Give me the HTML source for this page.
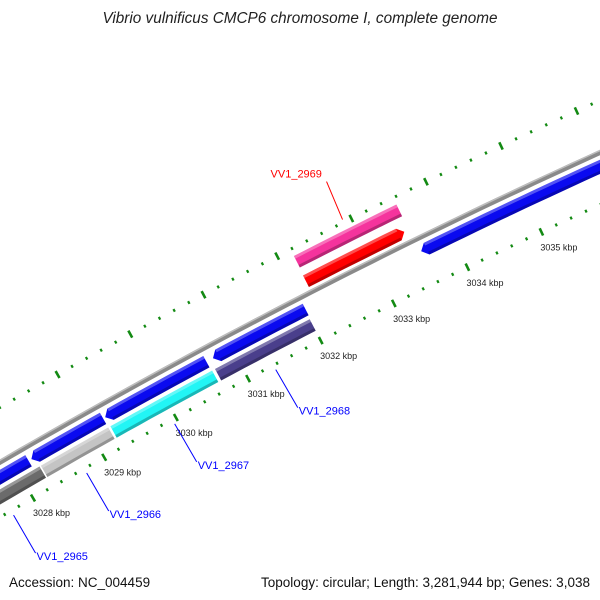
<!DOCTYPE html>
<html><head><meta charset="utf-8"><style>
html,body{margin:0;padding:0;background:#fff;width:600px;height:600px;overflow:hidden}
svg{display:block;font-family:"Liberation Sans",sans-serif}
</style></head><body>
<svg id="map" width="600" height="600" viewBox="0 0 600 600">
<text x="300" y="23" text-anchor="middle" font-size="15.3" font-style="italic" fill="#222">Vibrio vulnificus CMCP6 chromosome I, complete genome</text>
<g id="rot"></g>
<g id="labels"></g>
<text x="9" y="587" font-size="13.5" fill="#111">Accession: NC_004459</text>
<text x="590" y="587" text-anchor="end" font-size="13.5" fill="#111" textLength="329" lengthAdjust="spacingAndGlyphs">Topology: circular; Length: 3,281,944 bp; Genes: 3,038</text>
</svg>
<script>
const tickKbp = [3023,3024,3025,3026,3027,3028,3029,3030,3031,3032,3033,3034,3035,3036,3037,3038,3039];
const tickLabels = ["3028 kbp","3029 kbp","3030 kbp","3031 kbp","3032 kbp","3033 kbp","3034 kbp","3035 kbp"];
const tickLabelKbp = [3028,3029,3030,3031,3032,3033,3034,3035];
const featStart = [3032.18,3032.17,3026.5,3028.22,3029.25,3030.74,3033.58,3026.5,3028.28,3029.25,3030.70];
const featEnd   = [3033.56,3033.50,3028.18,3029.22,3030.65,3032.01,3038.5,3028.26,3029.22,3030.66,3032.00];
const featTrack = [4,3,1,1,1,1,1,0,0,0,0];
const featStrand= [0,1,-1,-1,-1,-1,-1,0,0,0,0];
const featColor = ["#f5339d","#ff0000","#0a0af0","#0a0af0","#0a0af0","#0a0af0","#0a0af0","#6b6b6b","#c4c4c4","#22f5f5","#4a3f8c"];
const featName  = ["VV1_2969-pink","VV1_2969","cds-blue","cds-blue","cds-blue","cds-blue","cds-blue","VV1_2965","VV1_2966","VV1_2967","VV1_2968"];
const geneLabels = ["VV1_2969","VV1_2968","VV1_2967","VV1_2966","VV1_2965"];
const geneLabelKbp = [3032.9,3031.35,3029.95,3028.72,3027.69];
const geneLabelColor = ["#ff0000","#0000ff","#0000ff","#0000ff","#0000ff"];

const NS="http://www.w3.org/2000/svg";
const K=82, ORIGIN=3028, R0=6656;
const PHI0=(-90-30.1)*Math.PI/180, DPHI=K/R0;
const P0=[33,498];
const CX=P0[0]-R0*Math.cos(PHI0), CY=P0[1]-R0*Math.sin(PHI0);
const trackD=[17.5,34.5,47.5,59.5,81];
const TH=13;
function toScreen(k,d){const p=PHI0+(k-ORIGIN)*DPHI;return [CX+(R0+d)*Math.cos(p),CY+(R0+d)*Math.sin(p)];}
const rot=document.getElementById('rot'), lab=document.getElementById('labels');
function mk(tag,attrs,parent){const e=document.createElementNS(NS,tag);for(const a in attrs)e.setAttribute(a,attrs[a]);parent.appendChild(e);return e;}
function band(k1,k2,d1,d2){const pts=[],n=Math.max(2,Math.ceil((k2-k1)*6));
  for(let i=0;i<=n;i++)pts.push(toScreen(k1+(k2-k1)*i/n,d2));
  for(let i=n;i>=0;i--)pts.push(toScreen(k1+(k2-k1)*i/n,d1));return pts;}
function ptsStr(p){return p.map(q=>q[0].toFixed(1)+','+q[1].toFixed(1)).join(' ');}

// backbone
let bb=mk('polygon',{points:ptsStr(band(3020,3040,trackD[2]-2.5,trackD[2]+2.5)),fill:'#8a8a8a'},rot);


let bb2=mk('polygon',{points:ptsStr(band(3020,3040,trackD[2]+1,trackD[2]+2.5)),fill:'#bdbdbd'},rot);



// ticks
[0,95].forEach((d,ri)=>{
  for(let i=0;i<tickKbp.length-1;i++){
    for(let j=0;j<5;j++){
      const k=tickKbp[i]+j*0.2;
      const h=j===0?4:1.5;
      const a=toScreen(k,d-h),b=toScreen(k,d+h);
      const t=mk('line',{x1:a[0],y1:a[1],x2:b[0],y2:b[1],stroke:'#138a13','stroke-width':j===0?2.6:2.2},rot);
      
      
    }
  }
});
// tick labels
tickLabels.forEach((s,i)=>{
  const p=toScreen(tickLabelKbp[i],-14);
  const t=mk('text',{x:p[0]-7,y:p[1]+6,'font-size':9,fill:'#222'},lab);
  t.textContent=s;
  
  
});

// features
featStart.forEach((s,i)=>{
  const e=featEnd[i],c=trackD[featTrack[i]],top=c+TH/2,bot=c-TH/2,ak=6/K;
  let pts,b1=s,b2=e;
  if(featStrand[i]===1){
    const body=band(s,e-ak,bot,top);const n=body.length/2;
    pts=body.slice(0,n).concat([toScreen(e,c)],body.slice(n));b2=e-ak;
  }else if(featStrand[i]===-1){
    const body=band(s+ak,e,bot,top);const n=body.length/2;
    pts=body.concat([toScreen(s,c)]);b1=s+ak;
  }else pts=band(s,e,bot,top);
  const g=mk('g',{},rot);
  
  
  mk('polygon',{points:ptsStr(pts),fill:featColor[i]},g);
  mk('polygon',{points:ptsStr(band(b1,b2,top-3,top)),fill:'#fff',opacity:0.3},g);
  mk('polygon',{points:ptsStr(band(b1,b2,bot,bot+3)),fill:'#000',opacity:0.25},g);
});

// gene labels
geneLabels.forEach((s,i)=>{
  const isTop=i===0;
  const p1=toScreen(geneLabelKbp[i],isTop?98:-5);
  const p2=isTop?[p1[0]-16,p1[1]-38]:[p1[0]+22,p1[1]+38];
  const l=mk('line',{x1:p1[0],y1:p1[1],x2:p2[0],y2:p2[1],stroke:geneLabelColor[i],'stroke-width':1},lab);
  
  
  const t=mk('text',{x:isTop?p2[0]-56:p2[0]+1,y:isTop?p2[1]-4:p2[1]+7,'font-size':11,fill:geneLabelColor[i]},lab);
  t.textContent=s;
  
  
});
</script>
</body></html>
